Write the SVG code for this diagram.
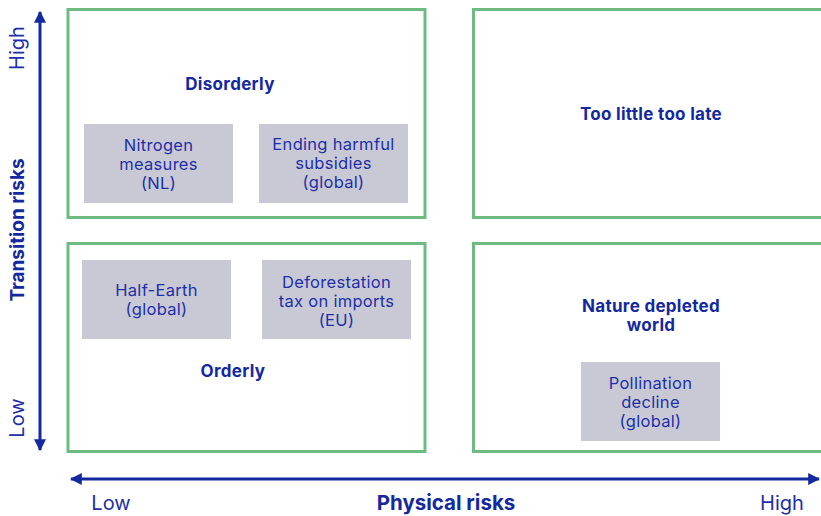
<svg xmlns="http://www.w3.org/2000/svg" width="821" height="516" viewBox="0 0 821 516">
<style>
.q{fill:#fff;stroke:#6dbb80;stroke-width:3}
.g{fill:#c8c9d4}
.t{font-family:Inter,"Open Sans",sans-serif;font-size:16.5px;letter-spacing:0.3px;fill:#1e2fa8;text-anchor:middle}
.b{font-family:Inter,"Open Sans",sans-serif;font-size:17px;letter-spacing:0.3px;font-weight:bold;fill:#1428a0;text-anchor:middle}
.ax{stroke:#1428a0;stroke-width:3;fill:none}
.al{font-family:Inter,"Open Sans",sans-serif;font-size:20px;fill:#1e2fa8;text-anchor:middle}
.ab{font-family:Inter,"Open Sans",sans-serif;font-size:19px;font-weight:bold;fill:#1428a0;text-anchor:middle}
</style>
<defs>
<marker id="ah" viewBox="0 0 10 10" refX="9" refY="5" markerWidth="4" markerHeight="4" orient="auto-start-reverse" markerUnits="strokeWidth">
<path d="M0,0 L10,5 L0,10 z" fill="#1428a0"/>
</marker>
</defs>
<g id="disorderly">
<rect class="q" x="68" y="9.5" width="357" height="208"/>
<text class="b" x="230" y="90">Disorderly</text>
</g>
<g id="too-little-too-late">
<rect class="q" x="473.5" y="9.5" width="350" height="208"/>
<text class="b" x="651" y="120">Too little too late</text>
</g>
<g id="orderly">
<rect class="q" x="68" y="243.5" width="357" height="208"/>
<text class="b" x="233" y="377">Orderly</text>
</g>
<g id="nature-depleted-world">
<rect class="q" x="473.5" y="243.5" width="350" height="208"/>
<text class="b" x="651" y="311.5">Nature depleted</text>
<text class="b" x="651" y="330.5">world</text>
</g>
<g id="nitrogen">
<rect class="g" x="84" y="124" width="149" height="79"/>
<text class="t" x="158.5" y="151">Nitrogen</text>
<text class="t" x="158.5" y="170">measures</text>
<text class="t" x="158.5" y="189">(NL)</text>
</g>
<g id="subsidies">
<rect class="g" x="259" y="124" width="149" height="79"/>
<text class="t" x="333.5" y="150">Ending harmful</text>
<text class="t" x="333.5" y="169">subsidies</text>
<text class="t" x="333.5" y="188">(global)</text>
</g>
<g id="half-earth">
<rect class="g" x="82" y="260" width="149" height="79"/>
<text class="t" x="156.5" y="296">Half-Earth</text>
<text class="t" x="156.5" y="315">(global)</text>
</g>
<g id="deforestation">
<rect class="g" x="262" y="260" width="149" height="79"/>
<text class="t" x="336.5" y="287.5">Deforestation</text>
<text class="t" x="336.5" y="306.5">tax on imports</text>
<text class="t" x="336.5" y="325.5">(EU)</text>
</g>
<g id="pollination">
<rect class="g" x="581" y="362" width="139" height="79"/>
<text class="t" x="650.5" y="389">Pollination</text>
<text class="t" x="650.5" y="408">decline</text>
<text class="t" x="650.5" y="427">(global)</text>
</g>
<g id="connectors">
<line class="ax" x1="40" y1="450" x2="40" y2="12" marker-end="url(#ah)" marker-start="url(#ah)"/>
<line class="ax" x1="71" y1="479" x2="819" y2="479" marker-end="url(#ah)" marker-start="url(#ah)"/>
</g>
<g id="axis-labels">
<text class="al" transform="translate(24,48) rotate(-90)">High</text>
<text class="ab" transform="translate(24,230) rotate(-90)">Transition risks</text>
<text class="al" transform="translate(24,418) rotate(-90)">Low</text>
<text class="al" x="111" y="510">Low</text>
<text class="ab" x="446" y="510" style="font-size:20.5px">Physical risks</text>
<text class="al" x="782" y="510">High</text>
</g>
</svg>
